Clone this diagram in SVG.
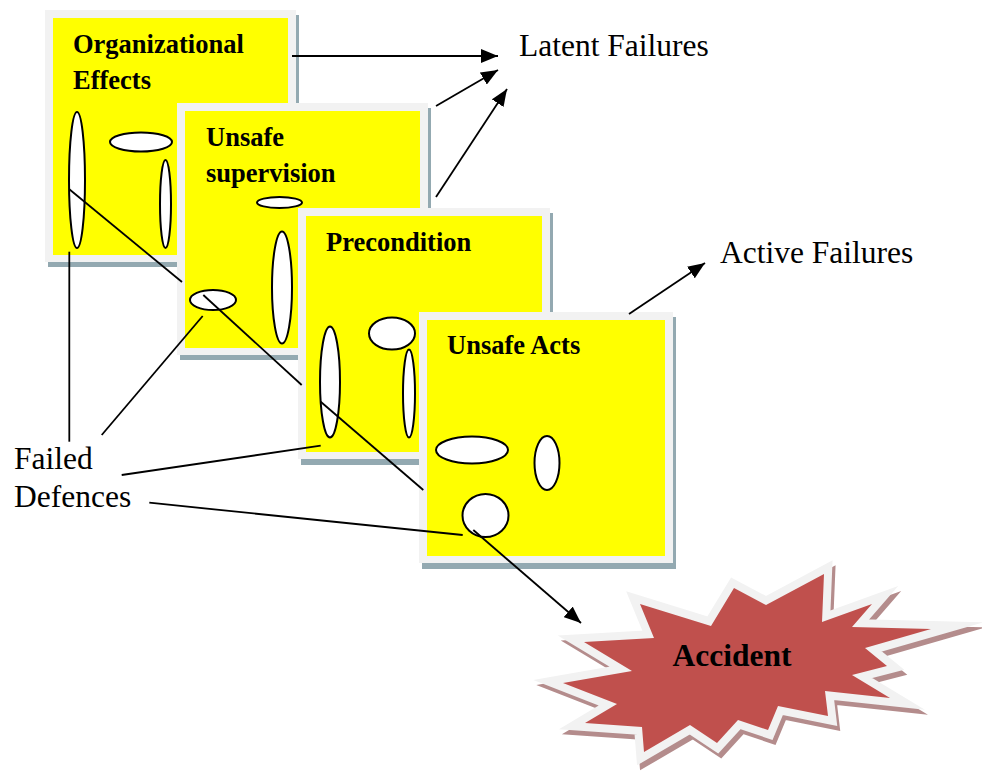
<svg xmlns="http://www.w3.org/2000/svg" width="982" height="772" viewBox="0 0 982 772">
<style>
.shadow{fill:#93a9b1}
.frame{fill:#f2f2f2}
.yellow{fill:#ffff00}
.title{font-family:"Liberation Serif","Times New Roman",serif;font-weight:bold;font-size:26.5px;fill:#000}
.label{font-family:"Liberation Serif","Times New Roman",serif;font-size:31.5px;fill:#000}
.hole{fill:#fff;stroke:#000;stroke-width:2}
.ln{fill:none;stroke:#000;stroke-width:1.8}
</style>
<defs>
<marker id="ah" markerUnits="userSpaceOnUse" markerWidth="17" markerHeight="14" refX="17" refY="7" orient="auto">
<path d="M0,0 L17,7 L0,14 z" fill="#000"/>
</marker>
</defs>
<rect width="982" height="772" fill="#fff"/>

<g id="box-organizational">
<rect class="shadow" x="48" y="15" width="251" height="252"/>
<rect class="frame" x="45" y="10" width="251" height="252"/>
<rect class="yellow" x="53" y="18" width="235" height="237"/>
<text class="title" x="73" y="53">Organizational</text>
<text class="title" x="73" y="89">Effects</text>
<ellipse class="hole" cx="77" cy="180" rx="8" ry="68"/>
<ellipse class="hole" cx="141" cy="142" rx="31" ry="9.5"/>
<ellipse class="hole" cx="165.5" cy="204" rx="5.5" ry="44"/>
</g>

<g id="box-supervision">
<rect class="shadow" x="180" y="108" width="251" height="252"/>
<rect class="frame" x="177" y="103" width="251" height="252"/>
<rect class="yellow" x="185" y="111" width="235" height="237"/>
<text class="title" x="206" y="146">Unsafe</text>
<text class="title" x="206" y="182">supervision</text>
<ellipse class="hole" cx="279.5" cy="202.5" rx="22.5" ry="5.5"/>
<ellipse class="hole" cx="282" cy="287.5" rx="10" ry="56"/>
<ellipse class="hole" cx="213" cy="300" rx="23" ry="10"/>
</g>

<g id="box-precondition">
<rect class="shadow" x="301" y="213" width="252" height="252"/>
<rect class="frame" x="298" y="208" width="252" height="251"/>
<rect class="yellow" x="306" y="216" width="236" height="236"/>
<text class="title" x="326" y="251">Precondition</text>
<ellipse class="hole" cx="330" cy="382" rx="10" ry="55.5"/>
<ellipse class="hole" cx="392" cy="333.5" rx="23" ry="16"/>
<ellipse class="hole" cx="409" cy="393.5" rx="6" ry="44"/>
</g>

<g id="box-unsafe-acts">
<rect class="shadow" x="422" y="317" width="254" height="252"/>
<rect class="frame" x="419" y="312" width="254" height="251"/>
<rect class="yellow" x="427" y="320" width="238" height="236"/>
<text class="title" x="447" y="354">Unsafe Acts</text>
<ellipse class="hole" cx="472" cy="450" rx="36" ry="13.5"/>
<ellipse class="hole" cx="547" cy="463" rx="12.5" ry="27"/>
<ellipse class="hole" cx="485.5" cy="515.5" rx="23" ry="21.5"/>
</g>

<g id="accident">
<polygon transform="translate(3,5)" fill="#b48c8c" stroke="#b48c8c" stroke-width="16" stroke-linejoin="miter" stroke-miterlimit="20" points="563,683 632,671 584,642 654,638 640,604 711,626 734,588 766,605 824,574 822,622 872,604 852,627 931,629 865,648 887,666 852,675 890,698 825,691 828,716 778,706 768,730 738,720 717,743 690,725 644,752 642,727 585,723 617,704"/>
<polygon fill="#c0504d" stroke="#f2f2f2" stroke-width="16" stroke-linejoin="miter" stroke-miterlimit="20" paint-order="stroke" points="563,683 632,671 584,642 654,638 640,604 711,626 734,588 766,605 824,574 822,622 872,604 852,627 931,629 865,648 887,666 852,675 890,698 825,691 828,716 778,706 768,730 738,720 717,743 690,725 644,752 642,727 585,723 617,704"/>
<text class="label" x="732" y="666" text-anchor="middle" font-weight="bold">Accident</text>
</g>

<g id="labels">
<text class="label" x="519" y="56">Latent Failures</text>
<text class="label" x="720" y="263">Active Failures</text>
<text class="label" x="14" y="469">Failed</text>
<text class="label" x="14" y="507">Defences</text>
</g>

<g id="connectors">
<line class="ln" x1="69.3" y1="189.3" x2="182" y2="282"/>
<line class="ln" x1="203.3" y1="295" x2="301.7" y2="385"/>
<line class="ln" x1="320.7" y1="401.7" x2="423.3" y2="490"/>
<line class="ln" x1="473.3" y1="530" x2="581" y2="623" marker-end="url(#ah)"/>
<line class="ln" x1="69.3" y1="251.7" x2="69.3" y2="441.7"/>
<line class="ln" x1="101.7" y1="435" x2="202.7" y2="316"/>
<line class="ln" x1="121.7" y1="475" x2="320.7" y2="445.7"/>
<line class="ln" x1="149.3" y1="502.7" x2="462.7" y2="535"/>
<line class="ln" x1="292" y1="56" x2="498" y2="56" marker-end="url(#ah)"/>
<line class="ln" x1="436" y1="106" x2="498" y2="70" marker-end="url(#ah)"/>
<line class="ln" x1="436" y1="197" x2="507" y2="89" marker-end="url(#ah)"/>
<line class="ln" x1="629" y1="314" x2="705" y2="263" marker-end="url(#ah)"/>
</g>
</svg>
